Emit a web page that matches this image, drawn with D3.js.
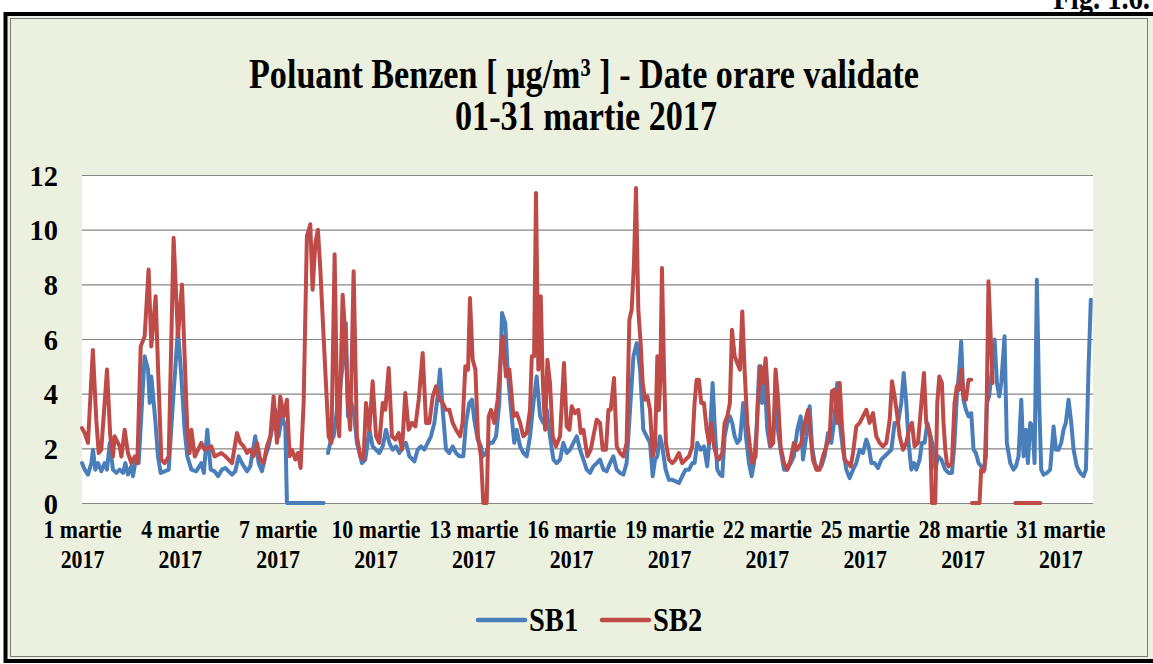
<!DOCTYPE html>
<html>
<head>
<meta charset="utf-8">
<script src="https://cdn.jsdelivr.net/npm/d3@7"></script>
<style>
  body { margin: 0; background: #fff; }
  text { font-family: "Liberation Serif", "Times New Roman", serif; font-weight: bold; fill: #000; }
</style>
</head>
<body>
<script>
// hourly benzene values (hour index from 1 martie 00:00)
// null = no data (line break)
const sb1Hours = [
  0, 2, 4.4, 6.9, 8.1, 9.8, 11.8, 14.2, 16.7, 18.4,
  20.4, 22.8, 25.3, 27.7, 30.2, 31.9, 33.8, 36.3, 37.5, 40,
  41.7, 46.1, 48.6, 49.8, 51, 53.9, 55.9, 57.9, 60.8, 63.8,
  66.9, 70.6, 73.1, 75.5, 77.5, 80.5, 84.1, 87.8, 89.7, 92.2,
  94.7, 97.6, 100.1, 103, 105.5, 107.9, 110.4, 112.8, 115.3, 117.7,
  121.4, 123.8, 127.5, 130, 132.4, 134.9, 137.3, 139.8, 142.2, 144.7,
  147.1, 149.6, 150.8, 177.8, 179, 181, 182.7, 185.2, 187.6, 190.1,
  192.5, 194.2, 195.7, 197.4, 199.9, 202.3, 206, 208.5, 211.5, 213.9,
  216.4, 218.8, 221.3, 223.7, 226.2, 228.6, 231.1, 233.5, 236, 238.4,
  240.9, 244.6, 247, 249.5, 251.9, 254.4, 256.8, 259.3, 261.7, 263.5,
  265.4, 267.9, 270.3, 272.8, 275.2, 277.7, 280.6, 282.6, 285, 287,
  288.7, 291.2, 293.6, 294.8, 297.3, 299.8, 302.2, 304.7, 307.1, 309.1,
  311.5, 313.2, 315.7, 318.1, 319.9, 322.4, 324.8, 327.3, 329.7, 332.2,
  334.6, 337.1, 339.5, 342, 344.4, 346.9, 349.3, 351.8, 354.2, 356.7,
  359.2, 361.6, 364.1, 366.5, 369, 371.4, 373.9, 376.3, 378.8, 381.2,
  383.7, 386.1, 388.6, 391, 393.5, 395.9, 398.4, 400.8, 403.3, 405.8,
  408.2, 410.7, 413.1, 415.6, 418, 420, 421.7, 423.4, 425.3, 427,
  429.5, 431.9, 434.4, 436.8, 439.3, 441.7, 444.2, 446.7, 449.1, 450.8,
  452.8, 455.2, 457.7, 460.1, 462.1, 464.1, 465.5, 467.5, 469.5, 471.2,
  472.9, 474.9, 476.8, 478.5, 480.3, 482.2, 484.2, 486.6, 488.6, 490.8,
  492.8, 494.5, 496.4, 498.4, 500.4, 502.3, 504.3, 506.3, 508.2, 510.2,
  512.1, 514.1, 516.6, 519, 521.5, 523.9, 526.4, 528.9, 530.6, 533,
  535.5, 537.2, 539.2, 541.6, 544.1, 546.5, 549, 551.4, 553.4, 555.8,
  557.6, 560, 562.5, 564.9, 567.4, 569.8, 572.3, 574.7, 577.2, 578.9,
  580.9, 583.3, 585.8, 588.2, 590.7, 593.1, 595.6, 598, 600.5, 602.9,
  604.7, 606.6, 608.3, 610.3, 612.3, 614, 616.4, 618.1, 620.1, 622.1,
  624.5, 626.2, 628, 629.9, 632.4, 635.3, 637.7, 640.2, 642.1, 643.8,
  645.6, 647, 648.7, 650.5, 652.4, 654.4, 656.1, 657.8, 659.8, 661.7,
  664.2, 665.9, 667.6, 669.6, 671.6, 673.3, 675, 676.5, 678.9, 680.6,
  683.1, 685.5, 687.3, 689.2, 691.2, 692.9, 694.6, 696.1, 697.8, 699.5,
  701, 702.7, 704.4, 705.9, 707.6, 710.1, 712.5, 715, 716.7, 718.6,
  720.6, 722.3, 724, 726, 728, 729.7, 732.1, 734.6, 737, 738.8,
  740.7, 742.4
];
const sb1Values = [
  1.46, 1.22, 1.04, 1.46, 1.95, 1.22, 1.46, 1.16, 1.46, 1.22,
  2.2, 1.22, 1.1, 1.22, 1.1, 1.46, 1.04, 1.34, 0.98, 1.71,
  1.46, 5.37, 4.88, 3.66, 4.63, 3.05, 1.71, 1.1, 1.16, 1.22,
  3.66, 6.34, 4.63, 2.68, 1.71, 1.22, 1.16, 1.46, 1.1, 2.68,
  1.22, 1.16, 0.98, 1.22, 1.28, 1.16, 1.04, 1.16, 1.71, 1.46,
  1.16, 1.34, 2.44, 1.46, 1.16, 1.71, 2.07, 2.68, 3.41, 2.44,
  3.17, 2.8, 0, 0, null, 1.83, 2.2, 2.44, 3.41, 4.27,
  5.37, 6.58, 3.17, 3.78, 3.41, 2.2, 1.46, 1.59, 2.68, 2.07,
  1.95, 1.83, 2.07, 2.68, 2.2, 1.95, 2.07, 1.83, 2.07, 2.2,
  1.71, 1.52, 1.95, 2.07, 1.95, 2.2, 2.44, 2.93, 3.9, 4.88,
  3.41, 1.95, 1.83, 2.07, 1.83, 1.71, 1.71, 2.93, 3.66, 3.78,
  3.05, 2.32, 2.07, 1.71, 1.83, 2.2, 2.2, 2.44, 3.66, 6.95,
  6.58, 4.88, 3.41, 2.2, 2.68, 2.07, 1.83, 1.71, 2.44, 3.66,
  4.63, 3.17, 2.93, 3.41, 2.44, 1.59, 1.46, 1.59, 2.2, 1.83,
  1.95, 2.2, 2.44, 1.95, 1.59, 1.22, 1.1, 1.34, 1.46, 1.59,
  1.22, 1.16, 1.46, 1.71, 1.22, 1.1, 1.04, 1.46, 3.41, 5.37,
  5.85, 4.88, 2.68, 2.44, 2.2, 0.98, 1.59, 1.71, 2.44, 2.07,
  1.22, 0.85, 0.85, 0.79, 0.73, 0.98, 1.22, 1.22, 1.46, 1.46,
  2.2, 1.95, 2.07, 1.34, 2.56, 4.39, 2.93, 1.22, 1.04, 0.98,
  2.44, 2.93, 3.17, 2.93, 2.44, 2.2, 2.32, 3.66, 2.44, 1.46,
  0.98, 1.46, 2.68, 5.0, 3.66, 4.63, 2.68, 2.07, 2.2, 3.66,
  2.68, 1.95, 1.22, 1.22, 1.46, 1.71, 2.68, 3.17, 1.59, 2.44,
  3.54, 2.07, 1.46, 1.22, 1.34, 1.71, 2.56, 2.2, 2.93, 4.39,
  2.93, 1.95, 1.22, 0.91, 1.22, 1.46, 1.95, 1.83, 2.32, 2.07,
  1.46, 1.46, 1.28, 1.59, 1.71, 1.83, 1.95, 2.93, 2.93, 3.66,
  4.76, 3.66, 2.2, 1.22, 1.46, 1.22, 1.59, 2.2, 2.2, 2.93,
  2.44, 2.07, 1.22, 1.71, 1.59, 1.22, 1.1, 1.1, 2.2, 3.9,
  4.88, 5.91, 3.78, 3.41, 3.17, 3.29, 1.95, 1.83, 1.46, 1.34,
  1.22, 3.66, 3.9, 4.88, 5.98, 4.39, 3.9, 4.39, 6.1, 2.2,
  1.46, 1.22, 1.34, 1.71, 3.78, 1.71, 2.68, 1.46, 2.93, 2.8,
  1.46, 8.17, 3.66, 1.22, 1.04, 1.1, 1.22, 2.8, 1.95, 1.95,
  2.2, 2.68, 2.93, 3.78, 2.93, 1.95, 1.34, 1.1, 0.98, 1.22,
  4.88, 7.44
];

const sb2Hours = [
  0, 2, 4.4, 8, 10.5, 12.3, 14.2, 18.4, 20.8, 22.8,
  24, 27.7, 29, 31.4, 33.8, 36.3, 38.8, 40.7, 43.2, 46.1,
  49, 51, 54.2, 56, 58.4, 60.8, 63.8, 67.4, 70.6, 73.6,
  77.5, 79.2, 80.5, 83, 87.8, 90.3, 95.2, 97.6, 102.5, 105.5,
  107.9, 110.4, 114, 116.5, 119, 121.4, 123.8, 126.3, 128.8, 131.2,
  133.7, 136.1, 138.6, 141, 143.5, 145.9, 148.4, 150.8, 152.8, 154.5,
  157, 158.9, 160.9, 163.1, 165.5, 168, 169.7, 171.7, 173.6, 175.4,
  176.6, 179, 181.5, 183.5, 185.9, 187.9, 189.3, 191.8, 193.8, 195.7,
  197.4, 199.9, 202.3, 204.8, 207.2, 209, 211.5, 213.9, 216.4, 218.8,
  221.3, 223.2, 225.7, 228.1, 230.6, 233, 235.5, 237.9, 240.4, 242.8,
  245.3, 247.8, 250.7, 253.2, 255.6, 258.1, 260.5, 263, 265.4, 267.9,
  270.3, 272.8, 275.2, 278.2, 280.1, 282.1, 284.1, 285.5, 287.5, 289.5,
  291.4, 293.6, 295.3, 297.8, 299.3, 301, 303.4, 305.9, 308.3, 309.6,
  312, 314.5, 317.5, 319.9, 322.4, 324.8, 327.3, 329.7, 331, 332.7,
  334.1, 335.8, 337.6, 339, 340.8, 342.5, 344.4, 346.4, 348.8, 351.8,
  354.7, 356.7, 358.7, 360.4, 362.8, 365.3, 367, 369, 371.9, 374.4,
  376.3, 378.8, 381.2, 383.2, 385.6, 387.4, 389.1, 391.5, 393.5, 395.9,
  398.4, 400.8, 402.8, 404.5, 406.2, 407.7, 409.4, 411.1, 412.6, 414.3,
  416.1, 418, 420, 421.7, 423.4, 424.5, 425.5, 426.8, 428.3, 429.7,
  431.9, 434.4, 436.8, 439.3, 441.7, 444.2, 446.7, 449.1, 450.8, 452.3,
  454, 455.7, 457.7, 459.7, 461.4, 463.1, 465.1, 467, 468.7, 471.2,
  472.9, 474.9, 476.8, 478.3, 480.3, 482.2, 484.2, 485.9, 487.6, 489.6,
  491.5, 493.3, 495.7, 497.4, 499.4, 501.4, 503.1, 504.8, 506.7, 508.7,
  510.4, 512.1, 514.1, 516.6, 519, 521.5, 523.9, 526.4, 529.4, 531.8,
  534.3, 536.2, 537.9, 540.4, 542.8, 545.3, 547.8, 550.2, 551.9, 553.9,
  555.8, 557.6, 559.3, 561.2, 563.7, 565.7, 567.4, 569.8, 572.3, 574.7,
  577.2, 579.6, 582.1, 584.5, 587, 589.4, 591.9, 594.4, 596.1, 598,
  600, 601.7, 604.2, 606.6, 609.1, 610.8, 612.7, 615.2, 617.7, 619.6,
  621.3, 623.1, 624.2, 625.5, 627.9, 629.4, 630.9, 632.8, 634, 635.3,
  636.5, 637.7, 640.2, 642.1, 643.8, 645.6, 647, 648.7, 650.5, 652.4,
  654.4, 654.6, 654.9, 660.5, 661.7, 663.5, 665.2, 667.1, 669.1, 670.1,
  671, 686.8, 705.2
];
const sb2Values = [
  2.74, 2.56, 2.2, 5.6, 3.05, 1.83, 1.95, 4.88, 2.44, 1.7,
  2.44, 2.07, 1.7, 2.68, 1.83, 1.46, 1.7, 1.46, 5.73, 6.1,
  8.54, 5.73, 7.56, 4.88, 1.59, 1.46, 1.7, 9.7, 6.1, 7.99,
  2.68, 1.83, 2.68, 1.7, 2.2, 1.95, 2.07, 1.7, 1.83, 1.71,
  1.59, 1.46, 2.56, 2.2, 2.07, 1.83, 1.95, 1.71, 2.2, 1.59,
  1.46, 2.07, 2.44, 3.9, 2.2, 3.9, 3.17, 3.78, 1.71, 1.95,
  1.59, 1.83, 1.28, 3.66, 9.76, 10.2, 7.8, 9.5, 10.0, 8.54,
  7.3, 4.88, 2.44, 2.2, 9.1, 3.05, 2.44, 7.62, 6.1, 3.66,
  2.68, 8.48, 2.44, 1.71, 1.59, 3.66, 2.68, 4.45, 2.44, 2.2,
  3.66, 3.41, 4.94, 2.44, 2.32, 2.56, 1.95, 4.02, 2.68, 2.93,
  2.8, 3.78, 5.49, 2.93, 2.93, 3.9, 4.27, 3.78, 3.66, 3.41,
  3.41, 2.93, 2.68, 2.44, 2.93, 5.0, 4.88, 7.5, 5.24, 4.88,
  2.44, 1.71, 0, 0, 3.17, 3.41, 2.93, 3.78, 5.49, 6.1,
  4.63, 4.88, 3.17, 3.29, 2.93, 2.44, 2.56, 3.41, 5.37, 5.37,
  11.34, 4.88, 7.56, 4.63, 2.68, 5.24, 4.39, 2.44, 2.07, 2.44,
  5.12, 2.8, 2.68, 3.54, 3.29, 3.41, 2.56, 2.68, 1.71, 1.95,
  2.44, 3.05, 2.93, 1.95, 1.95, 3.41, 3.41, 4.57, 2.07, 1.83,
  1.71, 2.2, 6.7, 7.07, 8.78, 11.52, 7.07, 5.85, 4.39, 3.78,
  3.9, 3.41, 1.71, 2.07, 5.37, 3.4, 4.4, 8.6, 4.88, 2.2,
  1.59, 1.46, 1.59, 1.83, 1.46, 1.59, 1.71, 2.07, 3.66, 4.51,
  4.51, 3.66, 3.66, 2.68, 2.2, 2.93, 2.07, 1.71, 1.59, 1.83,
  2.93, 3.17, 3.66, 6.34, 5.37, 5.12, 4.88, 7.01, 4.88, 2.93,
  2.07, 1.46, 1.71, 3.66, 5.0, 4.39, 5.3, 3.9, 2.07, 2.2,
  4.88, 3.9, 2.07, 1.46, 1.22, 1.59, 2.2, 1.95, 2.2, 2.93,
  3.41, 2.44, 1.59, 1.22, 1.22, 1.71, 2.07, 2.44, 4.09, 4.15,
  2.93, 4.39, 2.8, 1.59, 1.46, 1.34, 1.83, 2.8, 2.93, 3.17,
  3.41, 2.93, 3.29, 2.44, 2.2, 2.07, 2.2, 3.05, 4.45, 3.9,
  3.17, 2.44, 1.95, 2.2, 2.8, 2.93, 2.07, 2.2, 3.66, 4.76,
  2.93, 2.68, 2.44, 0, 0, 3.66, 4.63, 4.4, 2.93, 1.95,
  1.46, 1.34, 1.46, 3.66, 4.27, 4.15, 4.88, 3.9, 3.78, 4.51,
  4.51, null, 0, 0, 1.22, 1.16, 1.71, 8.11, 5.61, 4.39,
  null, 0, 0
];

const yTicks = [0, 2, 4, 6, 8, 10, 12];
const dayTicks = [0, 72, 144, 216, 288, 360, 432, 504, 576, 648, 720];
const dayLabels = ["1 martie", "4 martie", "7 martie", "10 martie", "13 martie", "16 martie",
  "19 martie", "22 martie", "25 martie", "28 martie", "31 martie"];
const yearLabel = "2017";
const seriesNames = ["SB1", "SB2"];
const seriesColors = ["#4a7ebb", "#be4b48"];

const W = 1153, H = 664;
const plot = { left: 82, right: 1093, top: 175, bottom: 503 };
const squeeze = 0.84; // the picture's text is narrower than plain Times

const svg = d3.select("body").append("svg")
  .attr("width", W)
  .attr("height", H);

// frame + chart area
svg.append("rect")
  .attr("x", 5.5).attr("y", 14)
  .attr("width", W + 20).attr("height", 647)
  .attr("fill", "#ebf1de")
  .attr("stroke", "#000")
  .attr("stroke-width", 4);
svg.append("rect")
  .attr("x", 10.5).attr("y", 18.5)
  .attr("width", 1137).attr("height", 638)
  .attr("fill", "none")
  .attr("stroke", "#7a7a7a")
  .attr("stroke-width", 1);

svg.append("text")
  .attr("transform", "translate(1150,9) scale(" + squeeze + ",1)")
  .attr("text-anchor", "end")
  .style("font-size", "34px")
  .text("Fig. 1.6.");

// title
svg.append("text")
  .attr("x", 584).attr("y", 88)
  .attr("text-anchor", "middle")
  .attr("textLength", 670)
  .attr("lengthAdjust", "spacingAndGlyphs")
  .style("font-size", "42px")
  .text("Poluant Benzen [ µg/m³ ] - Date orare validate");
svg.append("text")
  .attr("x", 586).attr("y", 130)
  .attr("text-anchor", "middle")
  .attr("textLength", 262)
  .attr("lengthAdjust", "spacingAndGlyphs")
  .style("font-size", "42px")
  .text("01-31 martie 2017");

// plot area
svg.append("rect")
  .attr("x", plot.left).attr("y", plot.top)
  .attr("width", plot.right - plot.left)
  .attr("height", plot.bottom - plot.top)
  .attr("fill", "#fff");

const x = d3.scaleLinear().domain([0, 744]).range([plot.left, plot.right]);
const y = d3.scaleLinear().domain([0, 12]).range([plot.bottom, plot.top]);

// gridlines
const grid = svg.append("g")
  .attr("transform", "translate(" + plot.left + ",0)")
  .call(d3.axisLeft(y).tickValues(yTicks).tickSize(-(plot.right - plot.left)).tickFormat(""));
grid.select(".domain").remove();
grid.selectAll("line").attr("stroke", "#868686").attr("stroke-width", 1.2);

// y labels
const yAxis = svg.append("g")
  .attr("transform", "translate(" + plot.left + ",0)")
  .call(d3.axisLeft(y).tickValues(yTicks).tickSize(0).tickPadding(0));
yAxis.select(".domain").remove();
yAxis.selectAll("text")
  .attr("x", null).attr("dy", null)
  .attr("transform", "translate(-24,10) scale(0.95,1)")
  .attr("text-anchor", "end")
  .style("font-size", "30px")
  .style("font-family", null);

// x labels, two lines each
const xAxis = svg.append("g")
  .attr("transform", "translate(0," + plot.bottom + ")")
  .call(d3.axisBottom(x).tickValues(dayTicks).tickSize(0).tickFormat((d, i) => dayLabels[i]));
xAxis.select(".domain").remove();
xAxis.selectAll("text").each(function (d, i) {
  const t = d3.select(this);
  t.text(null)
    .attr("y", null).attr("dy", null)
    .attr("transform", "scale(" + squeeze + ",1)")
    .attr("text-anchor", "middle")
    .style("font-size", "26px")
    .style("font-family", null);
  t.append("tspan").attr("x", 0).attr("y", 35).text(dayLabels[i]);
  t.append("tspan").attr("x", 0).attr("y", 65).text(yearLabel);
});

// series
const line = d3.line()
  .defined(d => d.v !== null)
  .x(d => x(d.h))
  .y(d => y(d.v));

const sb1 = sb1Hours.map((h, i) => ({ h: h, v: sb1Values[i] }));
const sb2 = sb2Hours.map((h, i) => ({ h: h, v: sb2Values[i] }));

[sb1, sb2].forEach((s, i) => {
  svg.append("path")
    .datum(s)
    .attr("d", line)
    .attr("fill", "none")
    .attr("stroke", seriesColors[i])
    .attr("stroke-width", 4)
    .attr("stroke-linejoin", "round")
    .attr("stroke-linecap", "round");
});

// legend
const legendX = [478, 602];
seriesNames.forEach((name, i) => {
  svg.append("line")
    .attr("x1", legendX[i]).attr("x2", legendX[i] + 47)
    .attr("y1", 620).attr("y2", 620)
    .attr("stroke", seriesColors[i])
    .attr("stroke-width", 4.5)
    .attr("stroke-linecap", "round");
  svg.append("text")
    .attr("transform", "translate(" + (legendX[i] + 51) + ",631) scale(" + squeeze + ",1)")
    .style("font-size", "34px")
    .text(name);
});
</script>
</body>
</html>
